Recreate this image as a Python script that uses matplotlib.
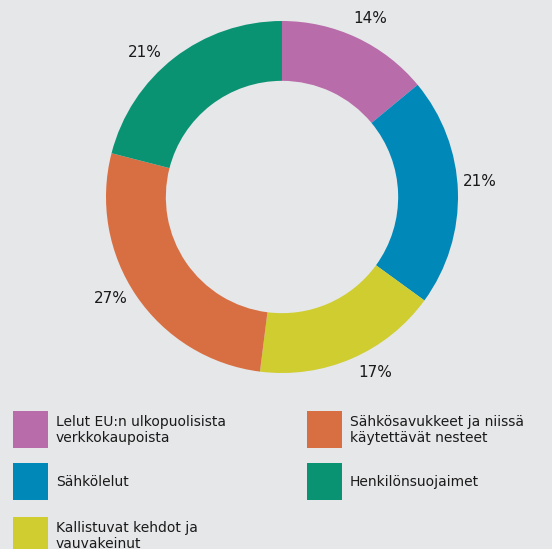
import matplotlib
matplotlib.use('Agg')
import matplotlib.pyplot as plt
from matplotlib.patches import Rectangle
import numpy as np

# data
categories = ['Lelut EU:n ulkopuolisista\nverkkokaupoista',
              'Sähkölelut',
              'Kallistuvat kehdot ja\nvauvakeinut',
              'Sähkösavukkeet ja niissä\nkäytettävät nesteet',
              'Henkilönsuojaimet']
shares = [14, 21, 17, 27, 21]
pct_labels = ['14%', '21%', '17%', '27%', '21%']
colors = ['#b86ca9', '#0088b8', '#cfcd2f', '#d86f42', '#0a9373']
# small nudges (degrees) of the % labels away from the slice middle
label_nudge = [-1.2, 2.8, 4.6, -3.6, 5.8]

BG = '#e6e7e9'
W, H = 552, 549

fig = plt.figure(figsize=(W / 100, H / 100), dpi=100)
fig.patch.set_facecolor(BG)

# donut: center (282,197), outer radius ~176px
cx, cy, R = 282, 197, 176
ax = fig.add_axes([(cx - R) / W, 1 - (cy + R) / H, 2 * R / W, 2 * R / H])
ax.set_facecolor(BG)
wedges, texts = ax.pie(shares, colors=colors, startangle=90, counterclock=False,
                       labels=pct_labels, labeldistance=1.13,
                       wedgeprops=dict(width=0.34, edgecolor='none'),
                       textprops=dict(fontsize=11, color='#1a1a1a', family='DejaVu Sans'))
for w, t, nd in zip(wedges, texts, label_nudge):
    ang = np.deg2rad((w.theta1 + w.theta2) / 2 + nd)
    t.set_position((1.13 * np.cos(ang), 1.13 * np.sin(ang)))
    t.set_horizontalalignment('center')
    t.set_verticalalignment('center')
ax.set_xlim(-1, 1)
ax.set_ylim(-1, 1)
ax.set_aspect('equal')
ax.axis('off')

# legend drawn by hand, 2 columns
col_x = [13, 307]
row_y = [411, 463, 517]
order = [(0, 0), (0, 1), (0, 2), (1, 0), (1, 1)]
for i, (c, r) in enumerate(order):
    x0, y0 = col_x[c], row_y[r]
    fig.add_artist(Rectangle((x0 / W, 1 - (y0 + 37) / H), 35 / W, 37 / H,
                             transform=fig.transFigure, facecolor=colors[i],
                             edgecolor='none'))
    fig.text((x0 + 43) / W, 1 - (y0 + 19) / H, categories[i], fontsize=10,
             color='#1a1a1a', va='center', ha='left', linespacing=1.12)

plt.savefig('out.png', dpi=100, facecolor=BG)
